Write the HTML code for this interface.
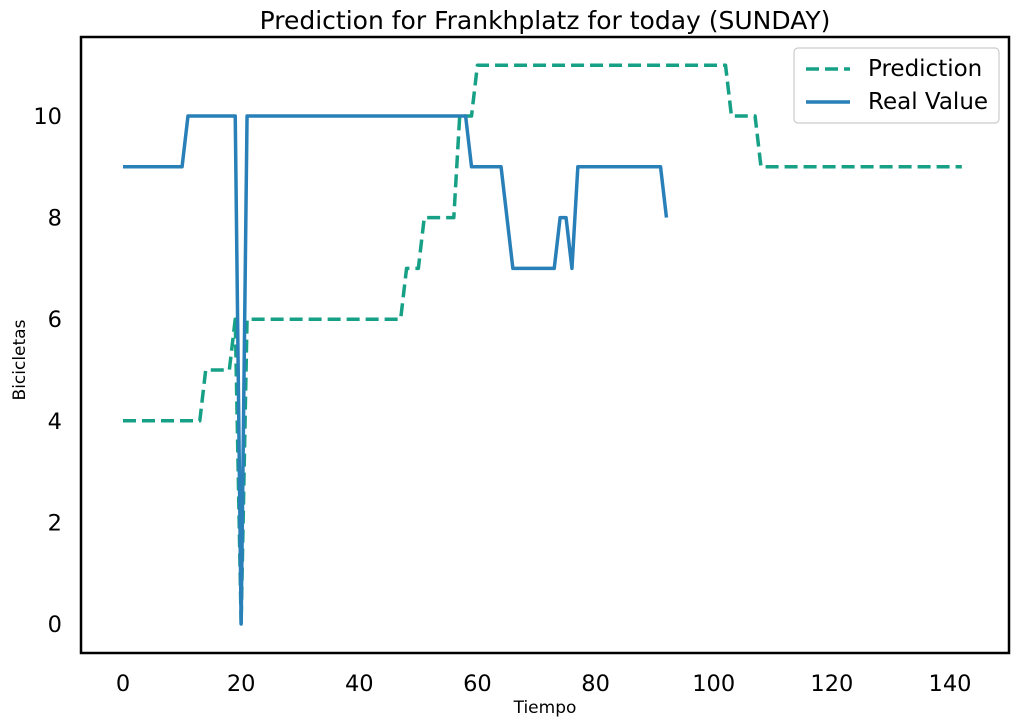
<!DOCTYPE html>
<html><head><meta charset="utf-8"><style>
body{margin:0;background:#fff}
svg{display:block;font-family:"DejaVu Sans","Liberation Sans",sans-serif}
</style></head><body>
<svg id="chart" width="1029" height="727">
<text x="545" y="29" font-size="25" text-anchor="middle">Prediction for Frankhplatz for today (SUNDAY)</text>
<g id="grid"></g>
<g id="series"></g>
<rect x="81" y="37" width="928" height="616" fill="none" stroke="#000" stroke-width="2.5"/>
<text x="545" y="713" font-size="17" text-anchor="middle">Tiempo</text>
<text transform="translate(25,360) rotate(-90)" font-size="17" text-anchor="middle">Bicicletas</text>
<g>
<rect x="794" y="48" width="205" height="75" rx="4" fill="#fff" stroke="#ccc" stroke-width="1.2"/>
<line x1="806" y1="69" x2="850" y2="69" stroke="#16a085" stroke-width="3.5" stroke-dasharray="13,6"/>
<text x="868" y="76" font-size="23">Prediction</text>
<line x1="806" y1="102" x2="850" y2="102" stroke="#2980b9" stroke-width="3.5"/>
<text x="868" y="109" font-size="23">Real Value</text>
</g>
</svg>
<script>
const xTicks=[0,20,40,60,80,100,120,140];
const yTicks=[0,2,4,6,8,10];
const prediction=[4,4,4,4,4,4,4,4,4,4,4,4,4,4,5,5,5,5,5,6,0,
6,6,6,6,6,6,6,6,6,6,6,6,6,6,6,6,6,6,6,6,6,6,6,6,6,6,6,
7,7,7,8,8,8,8,8,8,10,10,10,
11,11,11,11,11,11,11,11,11,11,11,11,11,11,11,11,11,11,11,11,11,11,11,11,11,11,11,11,11,11,11,11,11,11,11,11,11,11,11,11,11,11,11,
10,10,10,10,10,
9,9,9,9,9,9,9,9,9,9,9,9,9,9,9,9,9,9,9,9,9,9,9,9,9,9,9,9,9,9,9,9,9,9,9];
const realValue=[9,9,9,9,9,9,9,9,9,9,9,10,10,10,10,10,10,10,10,10,0,
10,10,10,10,10,10,10,10,10,10,10,10,10,10,10,10,10,10,10,10,10,10,10,10,10,10,10,10,10,10,10,10,10,10,10,10,10,10,
9,9,9,9,9,9,8,7,7,7,7,7,7,7,7,8,8,7,
9,9,9,9,9,9,9,9,9,9,9,9,9,9,9,8];
const NS="http://www.w3.org/2000/svg";
const X=t=>123+t*(950-123)/140;
const Y=v=>624-v*(624-116)/10;
const g=document.getElementById('grid');
xTicks.forEach(t=>{
 const el=document.createElementNS(NS,'text');
 el.setAttribute('x',X(t));el.setAttribute('y',691);
 el.setAttribute('font-size','22.5');el.setAttribute('text-anchor','middle');
 el.textContent=t;
 
 
 g.appendChild(el);
});
yTicks.forEach(v=>{
 const el=document.createElementNS(NS,'text');
 el.setAttribute('x',62);el.setAttribute('y',Y(v)+8);
 el.setAttribute('font-size','22.5');el.setAttribute('text-anchor','end');
 el.textContent=v;
 
 
 g.appendChild(el);
});
const s=document.getElementById('series');
function line(arr,color,dash,name){
 const p=document.createElementNS(NS,'polyline');
 p.setAttribute('points',arr.map((v,i)=>X(i)+','+Y(v)).join(' '));
 p.setAttribute('fill','none');p.setAttribute('stroke',color);
 p.setAttribute('stroke-width','3.5');p.setAttribute('stroke-linejoin','round');
 if(dash)p.setAttribute('stroke-dasharray',dash);
 
 
 s.appendChild(p);
}
line(prediction,'#16a085','13,6','prediction-line');
line(realValue,'#2980b9',null,'real-value-line');
</script>
</body></html>
